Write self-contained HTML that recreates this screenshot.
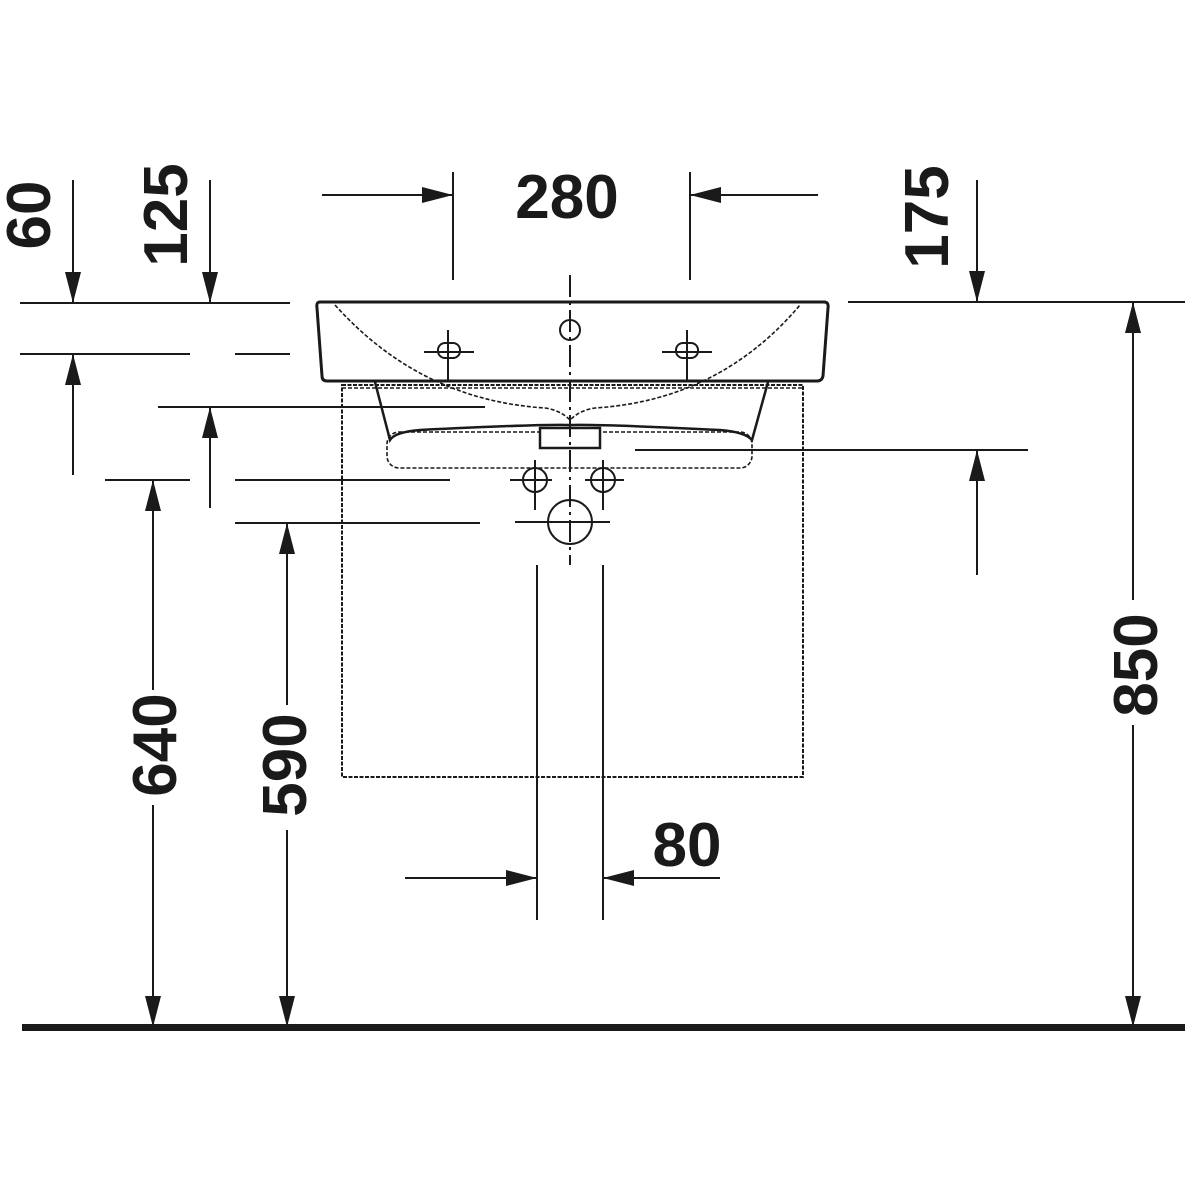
<!DOCTYPE html>
<html><head><meta charset="utf-8"><style>
html,body{margin:0;padding:0;background:#fff;}
svg{display:block}
text{font-family:"Liberation Sans",sans-serif;font-weight:bold;font-size:62px;fill:#1a1a1a}
</style></head><body>
<svg width="1200" height="1200" viewBox="0 0 1200 1200" xmlns="http://www.w3.org/2000/svg">
<defs>
<marker id="a" viewBox="0 0 10 10" refX="10" refY="5" markerWidth="10" markerHeight="10" markerUnits="userSpaceOnUse" orient="auto">
</marker>
</defs>
<g stroke="#1a1a1a" stroke-width="2" fill="none">
<!-- horizontal reference lines -->
<line x1="20" y1="303" x2="290" y2="303"/>
<line x1="848" y1="302" x2="1185" y2="302"/>
<line x1="20" y1="354" x2="190" y2="354"/>
<line x1="235" y1="354" x2="290" y2="354"/>
<line x1="158" y1="407" x2="485" y2="407"/>
<line x1="105" y1="480" x2="190" y2="480"/>
<line x1="235" y1="480" x2="450" y2="480"/>
<line x1="235" y1="523" x2="480" y2="523"/>
<line x1="635" y1="450" x2="1028" y2="450"/>
<!-- vertical dim lines -->
<line x1="73" y1="180" x2="73" y2="303"/>
<line x1="73" y1="354" x2="73" y2="475"/>
<line x1="210" y1="180" x2="210" y2="303"/>
<line x1="210" y1="407" x2="210" y2="508"/>
<line x1="977" y1="180" x2="977" y2="302"/>
<line x1="977" y1="450" x2="977" y2="575"/>
<line x1="153" y1="480" x2="153" y2="690"/>
<line x1="153" y1="805" x2="153" y2="1027"/>
<line x1="287" y1="523" x2="287" y2="705"/>
<line x1="287" y1="830" x2="287" y2="1027"/>
<line x1="1133" y1="302" x2="1133" y2="600"/>
<line x1="1133" y1="725" x2="1133" y2="1027"/>
<!-- 280 -->
<line x1="322" y1="195" x2="453" y2="195"/>
<line x1="690" y1="195" x2="818" y2="195"/>
<line x1="453" y1="172" x2="453" y2="280"/>
<line x1="690" y1="172" x2="690" y2="280"/>
<!-- 80 -->
<line x1="405" y1="878" x2="537" y2="878"/>
<line x1="603" y1="878" x2="720" y2="878"/>
<line x1="537" y1="565" x2="537" y2="920"/>
<line x1="603" y1="565" x2="603" y2="920"/>
</g>
<!-- arrowheads -->
<g fill="#1a1a1a">
<polygon points="73,303 65,272 81,272"/>
<polygon points="73,354 65,385 81,385"/>
<polygon points="210,303 202,272 218,272"/>
<polygon points="210,407 202,438 218,438"/>
<polygon points="977,302 969,271 985,271"/>
<polygon points="977,450 969,481 985,481"/>
<polygon points="153,480 145,511 161,511"/>
<polygon points="153,1027 145,996 161,996"/>
<polygon points="287,523 279,554 295,554"/>
<polygon points="287,1027 279,996 295,996"/>
<polygon points="1133,302 1125,333 1141,333"/>
<polygon points="1133,1027 1125,996 1141,996"/>
<polygon points="453,195 422,187 422,203"/>
<polygon points="690,195 721,187 721,203"/>
<polygon points="537,878 506,870 506,886"/>
<polygon points="603,878 634,870 634,886"/>
</g>
<rect x="22" y="1024" width="1163" height="7" fill="#1a1a1a"/>
<!-- sink -->
<g stroke="#1a1a1a" fill="none">
<path d="M320,302 L824,302 Q829,302 828,308 L823,376 Q822,381 817,381 L327,381 Q322,381 322,376 L317,308 Q316,302 320,302 Z" stroke-width="3"/>
<path d="M335,305 Q420,400 545,408 Q560,410 570,420 Q580,410 595,408 Q720,400 800,305" stroke-width="1.6" stroke-dasharray="4,2"/>
<rect x="342" y="385" width="461" height="392" stroke-width="2" stroke-dasharray="4,1.5"/>
<line x1="342" y1="388" x2="803" y2="388" stroke-width="1.5" stroke-dasharray="4,2"/>
<path d="M375,382 L390,440 Q395,432 420,430 Q540,424 570,425 Q600,424 720,430 Q745,432 752,440 L768,382" stroke-width="2.5"/>
<rect x="387" y="432" width="365" height="36" rx="12" stroke-width="1.6" stroke-dasharray="4,2"/>
<rect x="540" y="428" width="60" height="20" stroke-width="2.5" fill="#fff"/>
<g stroke-width="2">
<rect x="438" y="343" width="22" height="15" rx="7"/>
<line x1="424" y1="352" x2="474" y2="352"/><line x1="448" y1="330" x2="448" y2="380"/>
<rect x="676" y="343" width="22" height="15" rx="7"/>
<line x1="662" y1="352" x2="712" y2="352"/><line x1="687" y1="330" x2="687" y2="380"/>
<circle cx="570" cy="330" r="10"/>
<circle cx="535" cy="480" r="12"/><line x1="510" y1="480" x2="552" y2="480"/><line x1="535" y1="460" x2="535" y2="510"/>
<circle cx="603" cy="480" r="12"/><line x1="585" y1="480" x2="624" y2="480"/><line x1="603" y1="460" x2="603" y2="510"/>
<circle cx="570" cy="522" r="22"/><line x1="515" y1="522" x2="610" y2="522"/>
<line x1="570" y1="275" x2="570" y2="565" stroke-dasharray="22,5,3,5"/>
</g>
</g>
<!-- text -->
<text x="567" y="218" text-anchor="middle">280</text>
<text x="687" y="866" text-anchor="middle">80</text>
<text transform="translate(50,215) rotate(-90)" text-anchor="middle">60</text>
<text transform="translate(187,215) rotate(-90)" text-anchor="middle">125</text>
<text transform="translate(948,217) rotate(-90)" text-anchor="middle">175</text>
<text transform="translate(176,745) rotate(-90)" text-anchor="middle">640</text>
<text transform="translate(306,765) rotate(-90)" text-anchor="middle">590</text>
<text transform="translate(1157,665) rotate(-90)" text-anchor="middle">850</text>
</svg>
</body></html>
